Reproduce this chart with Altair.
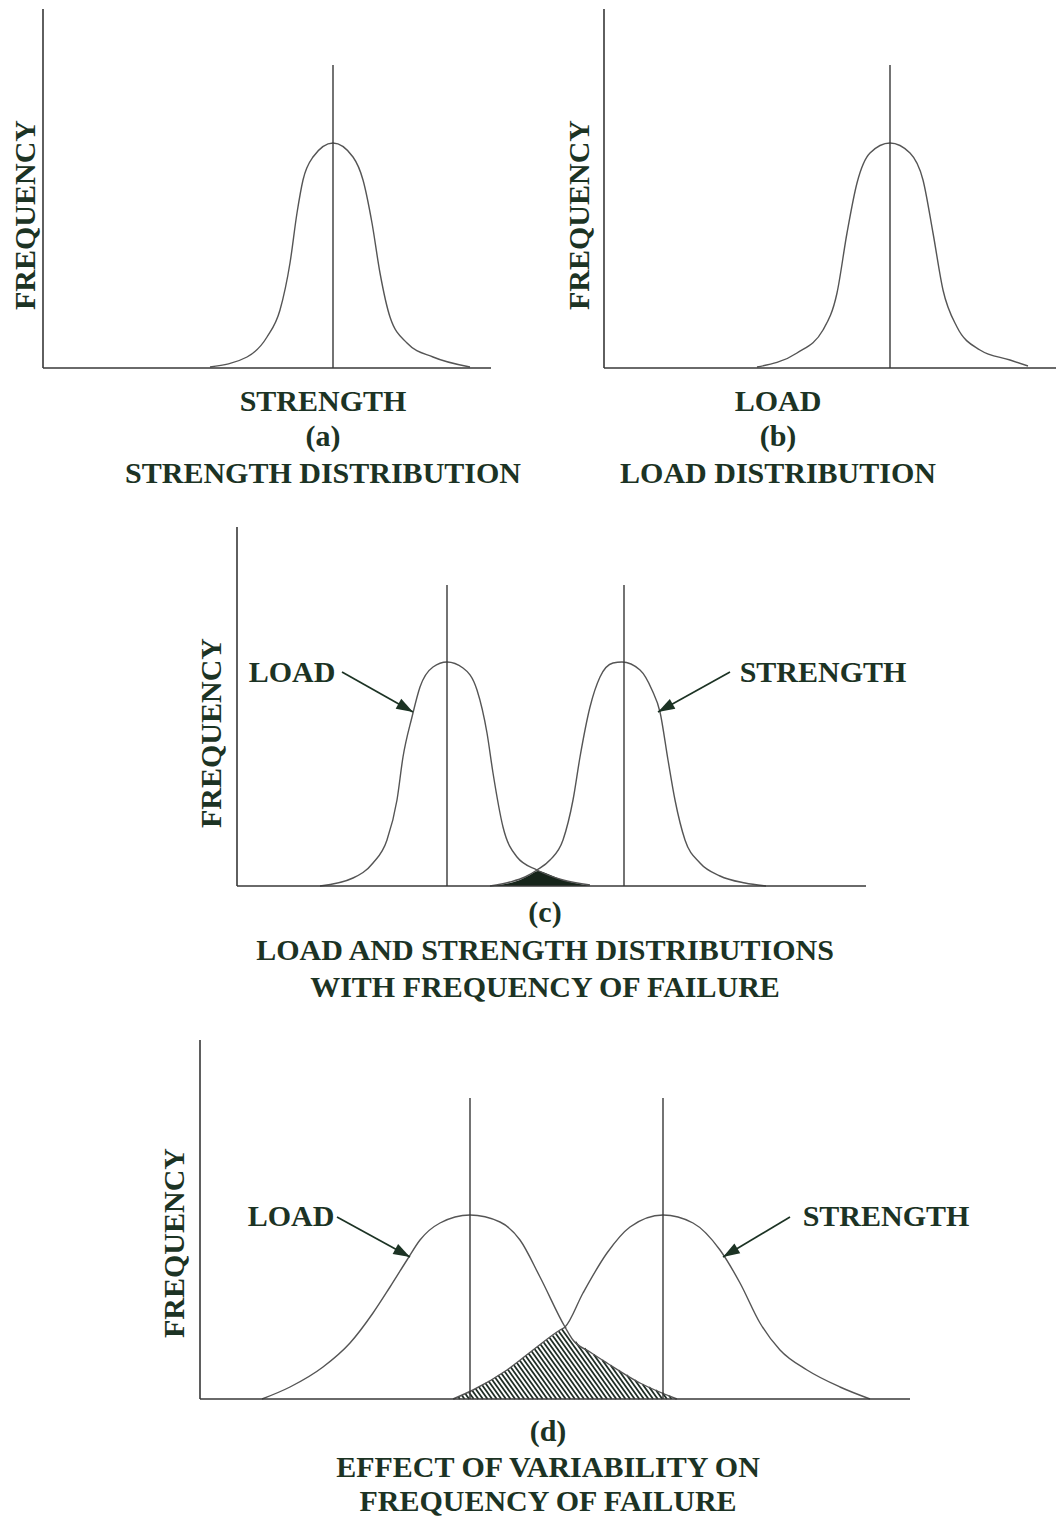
import numpy as np
import pandas as pd
import altair as alt

# ---------------- values ----------------
# x = distance to the right of the panel's y axis, y = height above its baseline
a_strength_x = [167, 204, 224, 237, 247, 254, 260, 270, 290, 310, 320, 329, 337, 347, 364, 390, 427]
a_strength_y = [1, 11, 31, 58, 105, 155, 188, 211, 225, 211, 188, 145, 95, 51, 25, 11, 1]
a_mean = [290]

b_load_x = [153, 193, 219, 233, 243, 253, 266, 286, 306, 319, 329, 339, 353, 376, 406, 424]
b_load_y = [1, 15, 38, 75, 135, 185, 215, 225, 215, 188, 135, 78, 41, 18, 8, 2]
b_mean = [286]

c_load_x = [83, 116, 136, 150, 160, 166, 175, 183, 196, 210, 226, 240, 250, 256, 266, 280, 300, 326, 353]
c_load_y = [0, 8, 23, 46, 86, 129, 169, 199, 219, 224, 218, 196, 153, 113, 59, 29, 16, 6, 1]
c_strength_x = [253, 273, 288, 300, 313, 326, 336, 343, 353, 363, 376, 385, 403, 415, 423, 431, 438, 448, 463, 483, 508, 529]
c_strength_y = [0, 4, 9, 16, 26, 46, 86, 129, 179, 209, 223, 224, 216, 196, 174, 126, 86, 46, 23, 10, 3, 0]
c_fail_x = [253, 268, 283, 293, 301, 311, 323, 338, 353]
c_fail_y = [0, 2, 6, 11, 15, 12, 7, 3, 0]
c_means = [210, 387]

d_load_x = [62, 90, 123, 150, 173, 190, 207, 220, 240, 270, 300, 320, 340, 365, 373, 390, 407, 440, 477]
d_load_y = [0, 12, 32, 56, 86, 112, 139, 159, 176, 184, 177, 159, 122, 72, 59, 47, 36, 16, 0]
d_strength_x = [253, 273, 307, 333, 360, 365, 383, 407, 430, 463, 493, 520, 540, 560, 580, 607, 640, 670]
d_strength_y = [0, 9, 29, 49, 69, 72, 106, 146, 172, 184, 176, 149, 116, 76, 49, 29, 12, 0]
d_fail_x = [253, 273, 307, 333, 360, 365, 373, 390, 407, 440, 477]
d_fail_y = [0, 9, 29, 49, 69, 72, 59, 47, 36, 16, 0]
d_means = [270, 463]

freq_label = "FREQUENCY"
a_caption = ["STRENGTH", "(a)", "STRENGTH DISTRIBUTION"]
b_caption = ["LOAD", "(b)", "LOAD DISTRIBUTION"]
c_caption = ["(c)", "LOAD AND STRENGTH DISTRIBUTIONS", "WITH FREQUENCY OF FAILURE"]
d_caption = ["(d)", "EFFECT OF VARIABILITY ON", "FREQUENCY OF FAILURE"]
arrow_labels = ["LOAD", "STRENGTH"]

# ---------------- layout (page pixels) & style ----------------
W, H = 1048, 1510
TXT = "#1c3324"
LINE = "#555555"
AXIS = "#383838"
FONT = "Liberation Serif"
FS = 30

LAYOUT = {
    "a": dict(ox=43, oy=368, xlen=448, ylen=359, mh=303, freq=(-17, 153), cap_x=280, cap_y=[-34, -69, -106]),
    "b": dict(ox=604, oy=368, xlen=454, ylen=359, mh=303, freq=(-24, 153), cap_x=174, cap_y=[-34, -69, -106]),
    "c": dict(ox=237, oy=886, xlen=629, ylen=359, mh=301, freq=(-25, 153), cap_x=308, cap_y=[-27, -65, -102],
              lab=[(55, 213), (586, 213)], arr=[((105, 214), (176, 174)), ((493, 214), (421, 174))]),
    "d": dict(ox=200, oy=1399, xlen=710, ylen=359, mh=301, freq=(-25, 156), cap_x=348, cap_y=[-33, -69, -103],
              lab=[(91, 182), (686, 182)], arr=[((137, 182), (210, 142)), ((590, 182), (523, 142))]),
}


class Panel:
    def __init__(self, key):
        L = LAYOUT[key]
        self.L = L
        ox, oy = L["ox"], L["oy"]
        self.sx = alt.Scale(domain=[8 - ox, 8 + W - ox], nice=False, zero=False)
        self.sy = alt.Scale(domain=[oy - 8 - H, oy - 8], nice=False, zero=False)
        self.layers = []

    def X(self, f):
        return alt.X(f, type="quantitative", scale=self.sx, axis=None)

    def Y(self, f):
        return alt.Y(f, type="quantitative", scale=self.sy, axis=None)

    def curve(self, xs, ys):
        df = pd.DataFrame({"x": xs, "y": ys})
        self.layers.append(
            alt.Chart(df).mark_line(interpolate="monotone", color=LINE, strokeWidth=1.4)
            .encode(x=self.X("x"), y=self.Y("y"))
        )

    def frame(self, means):
        L = self.L
        ax = pd.DataFrame({"x": [0, 0], "y": [0, 0], "x2": [0, L["xlen"]], "y2": [L["ylen"], 0]})
        self.layers.append(
            alt.Chart(ax).mark_rule(color=AXIS, strokeWidth=1.6)
            .encode(x=self.X("x"), y=self.Y("y"), x2=alt.X2("x2"), y2=alt.Y2("y2"))
        )
        mn = pd.DataFrame({"x": means, "y": [0] * len(means), "y2": [L["mh"]] * len(means)})
        self.layers.append(
            alt.Chart(mn).mark_rule(color=AXIS, strokeWidth=1.4)
            .encode(x=self.X("x"), y=self.Y("y"), y2=alt.Y2("y2"))
        )

    def texts(self, caption):
        L = self.L
        fq = pd.DataFrame({"x": [L["freq"][0]], "y": [L["freq"][1]], "t": [freq_label]})
        self.layers.append(
            alt.Chart(fq).mark_text(angle=270, font=FONT, fontWeight="bold", fontSize=FS, color=TXT,
                                    align="center", baseline="middle")
            .encode(x=self.X("x"), y=self.Y("y"), text="t:N")
        )
        cp = pd.DataFrame({"x": [L["cap_x"]] * len(caption), "y": L["cap_y"], "t": caption})
        self.layers.append(
            alt.Chart(cp).mark_text(font=FONT, fontWeight="bold", fontSize=FS, color=TXT,
                                    align="center", baseline="middle")
            .encode(x=self.X("x"), y=self.Y("y"), text="t:N")
        )

    def arrows(self):
        L = self.L
        lb = pd.DataFrame({"x": [p[0] for p in L["lab"]], "y": [p[1] for p in L["lab"]], "t": arrow_labels})
        self.layers.append(
            alt.Chart(lb).mark_text(font=FONT, fontWeight="bold", fontSize=FS, color=TXT,
                                    align="center", baseline="middle")
            .encode(x=self.X("x"), y=self.Y("y"), text="t:N")
        )
        st = [a[0] for a in L["arr"]]
        tp = [a[1] for a in L["arr"]]
        ang = [float(np.degrees(np.arctan2(t[0] - s[0], t[1] - s[1]))) % 360 for s, t in zip(st, tp)]
        ar = pd.DataFrame({"x": [s[0] for s in st], "y": [s[1] for s in st],
                           "x2": [t[0] for t in tp], "y2": [t[1] for t in tp], "angle": ang})
        self.layers.append(
            alt.Chart(ar).mark_rule(color=TXT, strokeWidth=1.7)
            .encode(x=self.X("x"), y=self.Y("y"), x2=alt.X2("x2"), y2=alt.Y2("y2"))
        )
        self.layers.append(
            alt.Chart(ar).mark_point(shape="M0,0L-0.75,2.2L0.75,2.2Z", filled=True, opacity=1,
                                     color=TXT, size=230)
            .encode(x=self.X("x2"), y=self.Y("y2"), angle=alt.Angle("angle", type="quantitative", scale=None))
        )

    def solid_fill(self, xs, ys):
        df = pd.DataFrame({"x": xs, "y": ys, "y0": [0] * len(xs)})
        self.layers.append(
            alt.Chart(df).mark_area(color="#16241a", opacity=1, interpolate="monotone")
            .encode(x=self.X("x"), y=self.Y("y"), y2=alt.Y2("y0"))
        )

    def hatch_fill(self, fx, fy, step=4.6, slope=1.4):
        segs = []
        ys = np.arange(0, max(fy) + 2, 0.25)
        for c in np.arange(fx[0] + step / 2, fx[-1], step):
            xs = c - ys / slope
            f = np.interp(xs, fx, fy, left=-1, right=-1)
            inside = ys <= f
            n = len(ys)
            i = 0
            while i < n:
                if inside[i]:
                    j = i
                    while j + 1 < n and inside[j + 1]:
                        j += 1
                    if j > i:
                        segs.append((xs[i], ys[i], xs[j], ys[j]))
                    i = j + 1
                else:
                    i += 1
        df = pd.DataFrame(segs, columns=["x", "y", "x2", "y2"])
        self.layers.append(
            alt.Chart(df).mark_rule(color="#1f2d25", strokeWidth=1.8)
            .encode(x=self.X("x"), y=self.Y("y"), x2=alt.X2("x2"), y2=alt.Y2("y2"))
        )

    def chart(self):
        return alt.layer(*self.layers)


pa = Panel("a")
pa.curve(a_strength_x, a_strength_y)
pa.frame(a_mean)
pa.texts(a_caption)

pb = Panel("b")
pb.curve(b_load_x, b_load_y)
pb.frame(b_mean)
pb.texts(b_caption)

pc = Panel("c")
pc.solid_fill(c_fail_x, c_fail_y)
pc.curve(c_load_x, c_load_y)
pc.curve(c_strength_x, c_strength_y)
pc.frame(c_means)
pc.texts(c_caption)
pc.arrows()

pd_ = Panel("d")
pd_.hatch_fill(d_fail_x, d_fail_y)
pd_.curve(d_load_x, d_load_y)
pd_.curve(d_strength_x, d_strength_y)
pd_.frame(d_means)
pd_.texts(d_caption)
pd_.arrows()

chart = (
    alt.layer(pa.chart(), pb.chart(), pc.chart(), pd_.chart())
    .resolve_scale(x="independent", y="independent")
    .properties(width=W, height=H, padding=0, autosize=alt.AutoSizeParams(type="none"), background="white")
    .configure_view(stroke=None)
)

chart.save("out.html", embed_options={"renderer": "svg", "actions": False})
